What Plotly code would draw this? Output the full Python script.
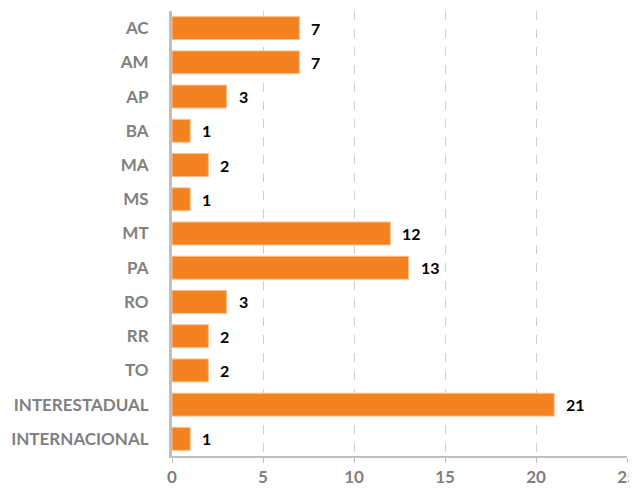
import plotly.graph_objects as go

categories = ["AC", "AM", "AP", "BA", "MA", "MS", "MT", "PA", "RO", "RR", "TO",
              "INTERESTADUAL", "INTERNACIONAL"]
values = [7, 7, 3, 1, 2, 1, 12, 13, 3, 2, 2, 21, 1]
x_ticks = [0, 5, 10, 15, 20, 25]

bar_color = "#F58220"
gray = "#808080"

fig = go.Figure()
fig.add_trace(go.Bar(
    x=values, y=categories, orientation="h",
    marker=dict(color=bar_color, line=dict(color="#FBC08F", width=1)),
    hoverinfo="x+y",
))

for c, v in zip(categories, values):
    fig.add_annotation(x=v, y=c, text="<b>%d</b>" % v, showarrow=False,
                       xanchor="left", xshift=10,
                       font=dict(family="Lato, sans-serif", size=16, color="#000000"))

# page body has an 8px default margin, so the figure is sized/offset to compensate
fig.update_layout(
    width=629, height=480,
    margin=dict(l=164, r=10, t=3, b=32),
    paper_bgcolor="white", plot_bgcolor="white",
    bargap=0.33,
    showlegend=False,
    font=dict(family="Lato, sans-serif"),
)
fig.update_xaxes(
    range=[0, 25], tickvals=x_ticks,
    showgrid=True, gridcolor="#CFCFCF", griddash="dash", gridwidth=1,
    showline=True, linecolor="#BFBFBF", linewidth=2,
    ticks="outside", ticklen=5, tickcolor="#BFBFBF", tickwidth=1,
    tickfont=dict(family="Lato, sans-serif", size=17, color=gray, weight="bold"),
    zeroline=False, fixedrange=True, automargin=False,
)
fig.update_yaxes(
    autorange="reversed",
    showline=True, linecolor="#BFBFBF", linewidth=3,
    ticks="", ticklabelstandoff=17,
    tickfont=dict(family="Lato, sans-serif", size=17, color=gray, weight="bold"),
    showgrid=False, fixedrange=True, automargin=False,
)

fig.write_html("out.html")
